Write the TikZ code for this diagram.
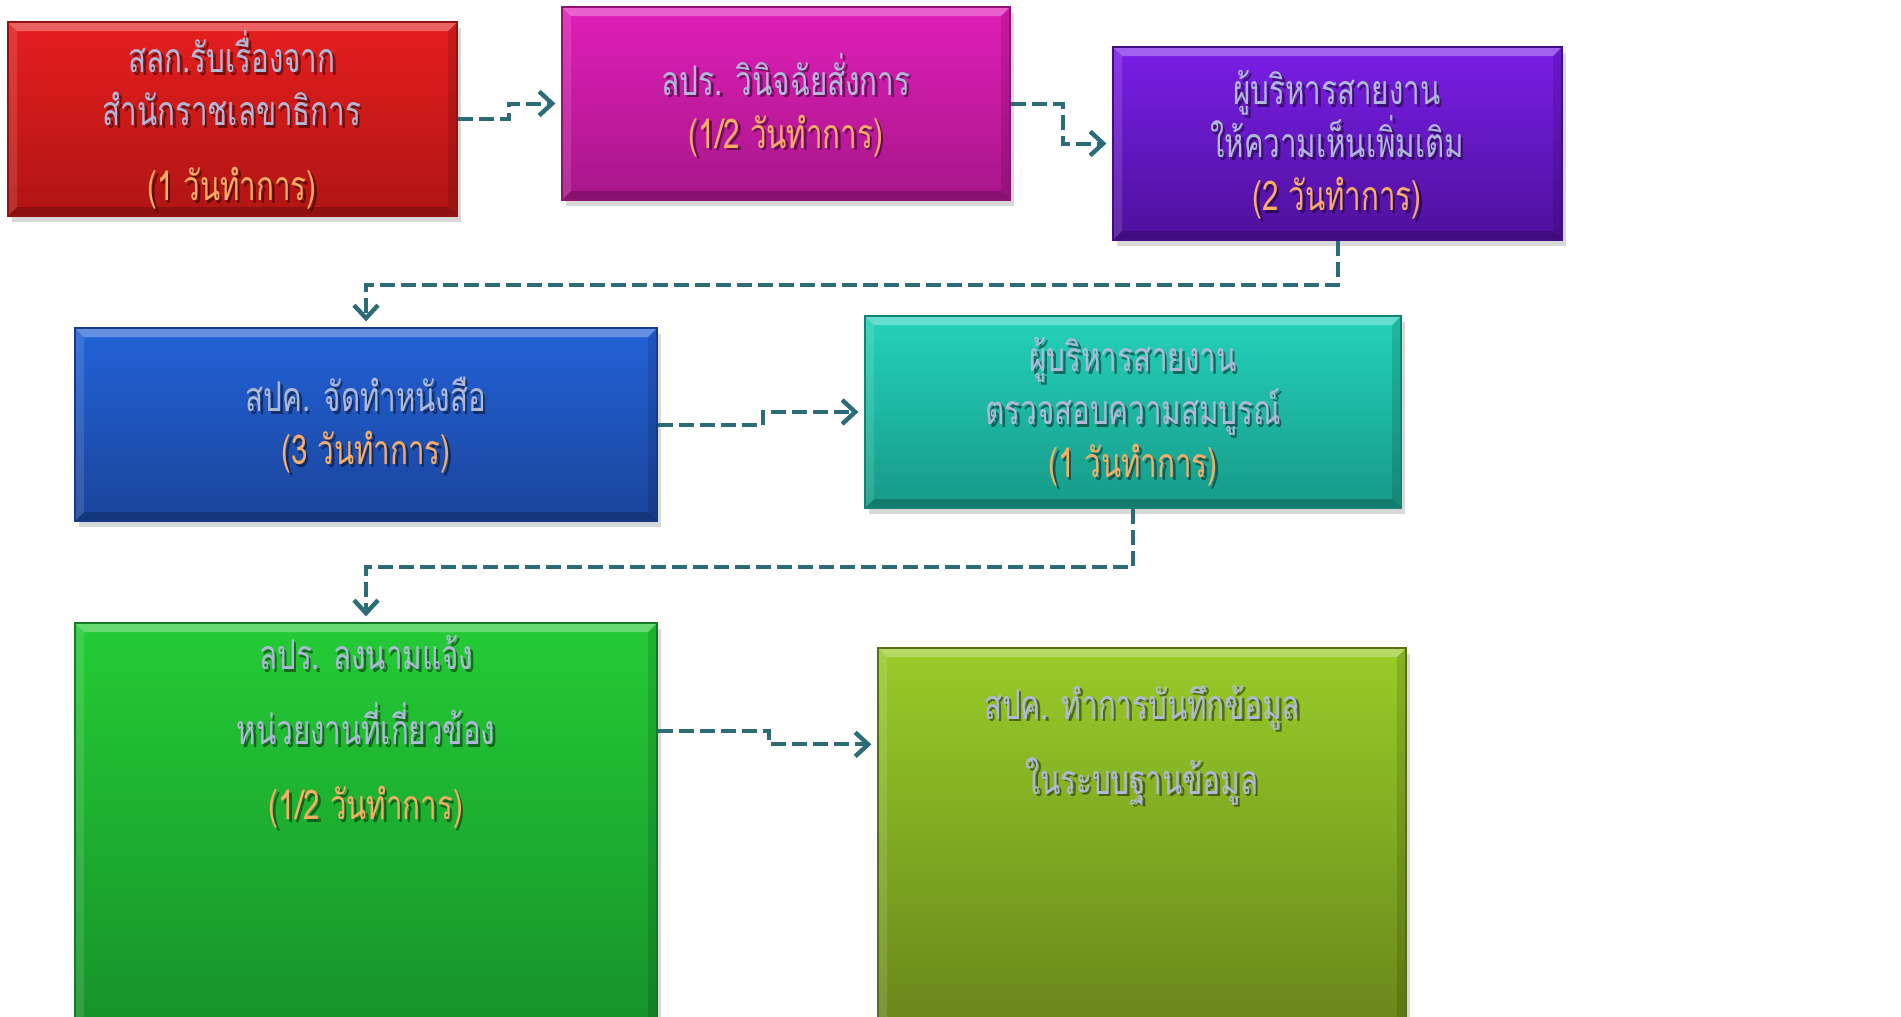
\documentclass[tikz,border=0pt]{standalone}
\usepackage{fontspec}
\newfontfamily\thai[Script=Thai,FakeStretch=0.72]{Loma}
\usetikzlibrary{arrows.meta,shadows,fit}
\definecolor{redT}{HTML}{E61E1E}\definecolor{redB}{HTML}{B01414}
\definecolor{magT}{HTML}{E01EB8}\definecolor{magB}{HTML}{A8168A}
\definecolor{purT}{HTML}{7A1EE6}\definecolor{purB}{HTML}{4E109C}
\definecolor{bluT}{HTML}{2262D8}\definecolor{bluB}{HTML}{1A449A}
\definecolor{teaT}{HTML}{24D2BA}\definecolor{teaB}{HTML}{169A88}
\definecolor{grnT}{HTML}{24CC35}\definecolor{grnB}{HTML}{15902A}
\definecolor{limT}{HTML}{98CC28}\definecolor{limB}{HTML}{66841A}
\definecolor{lav}{HTML}{B0B8D8}
\definecolor{orng}{HTML}{F8AC66}
\definecolor{arrowc}{HTML}{2B6C78}
\newcommand\orng[1]{\textcolor{orng}{#1}}
\newcommand\txtfont{\thai\fontsize{20.5}{26.5}\selectfont}
\makeatletter
\newcommand\txt[3]{%
  \node[txtstyle, text=black, text opacity=0.45, xshift=1.3pt, yshift=-1.3pt,
        font={\txtfont\let\orng\@firstofone}] at (#2) {#3};
  \node[txtstyle] (#1) at (#2) {#3};}
\makeatother
\tikzset{
  box/.style 2 args={draw=#2!85!black, line width=0.6pt, top color=#1, bottom color=#2,
    inner sep=0pt,
    drop shadow={shadow xshift=2pt, shadow yshift=-3pt, opacity=0.3},
    path picture={
      \path (path picture bounding box.north west) coordinate (pNW)
            (path picture bounding box.north east) coordinate (pNE)
            (path picture bounding box.south west) coordinate (pSW)
            (path picture bounding box.south east) coordinate (pSE);
      \fill[white,opacity=0.3] (pNW) -- (pNE) -- ([shift={(-4.5pt,-4.5pt)}]pNE) -- ([shift={(4.5pt,-4.5pt)}]pNW) -- cycle;
      \fill[white,opacity=0.12] (pNW) -- ([shift={(4.5pt,-4.5pt)}]pNW) -- ([shift={(4.5pt,4.5pt)}]pSW) -- (pSW) -- cycle;
      \fill[black,opacity=0.12] (pNE) -- ([shift={(-4.5pt,-4.5pt)}]pNE) -- ([shift={(-4.5pt,4.5pt)}]pSE) -- (pSE) -- cycle;
      \fill[black,opacity=0.2] (pSW) -- ([shift={(4.5pt,4.5pt)}]pSW) -- ([shift={(-4.5pt,4.5pt)}]pSE) -- (pSE) -- cycle;
    }},
  txtstyle/.style={align=center, text=lav, inner sep=0pt, font=\txtfont},
  conn/.style={draw=arrowc, line width=2pt, dash pattern=on 7.5pt off 3pt,
    -{Straight Barb[length=6.5pt,width=12pt,line width=2.2pt]}, shorten >=3pt}
}
\begin{document}
\begin{tikzpicture}[x=0.5pt,y=-0.5pt]
\useasboundingbox (0,0) rectangle (1901,1017);
\clip (0,0) rectangle (1901,1017);
\fill[white] (0,0) rectangle (1901,1017);
% boxes
\node[box={redT}{redB}, fit={(8,22) (457,216)}] (b1) {};
\node[box={magT}{magB}, fit={(562,7) (1010,200)}] (b2) {};
\node[box={purT}{purB}, fit={(1113,47) (1562,240)}] (b3) {};
\node[box={bluT}{bluB}, fit={(75,328) (657,521)}] (b4) {};
\node[box={teaT}{teaB}, fit={(865,316) (1401,508)}] (b5) {};
\node[box={grnT}{grnB}, fit={(75,623) (657,1040)}] (b6) {};
\node[box={limT}{limB}, fit={(878,648) (1406,1040)}] (b7) {};
% texts
\txt{t1}{232,120}{สลก.รับเรื่องจาก\\สำนักราชเลขาธิการ\\[11pt]\orng{(1 วันทำการ)}}
\txt{t2}{786,105}{ลปร. วินิจฉัยสั่งการ\\\orng{(1/2 วันทำการ)}}
\txt{t3}{1337,145}{ผู้บริหารสายงาน\\ให้ความเห็นเพิ่มเติม\\\orng{(2 วันทำการ)}}
\txt{t4}{366,425}{สปค. จัดทำหนังสือ\\\orng{(3 วันทำการ)}}
\txt{t5}{1133,412}{ผู้บริหารสายงาน\\ตรวจสอบความสมบูรณ์\\\orng{(1 วันทำการ)}}
\txt{t6}{366,732}{ลปร. ลงนามแจ้ง\\[11pt]หน่วยงานที่เกี่ยวข้อง\\[11pt]\orng{(1/2 วันทำการ)}}
\txt{t7}{1142,745}{สปค. ทำการบันทึกข้อมูล\\[11pt]ในระบบฐานข้อมูล}
% connectors
\draw[conn] (b1.east) -- ++(51,0) |- (b2.west);
\draw[conn] (b2.east) -- ++(52,0) |- (b3.west);
\draw[conn] (b3.south) -- ++(0,44) -| (b4.north);
\draw[conn] (b4.east) -- ++(105,0) |- (b5.west);
\draw[conn] (b5.south) -- ++(0,58) -| (b6.north);
\draw[conn] ([yshift=-54.5pt]b6.north east) -- ++(111,0) |- ([yshift=-48.5pt]b7.north west);
\end{tikzpicture}
\end{document}
